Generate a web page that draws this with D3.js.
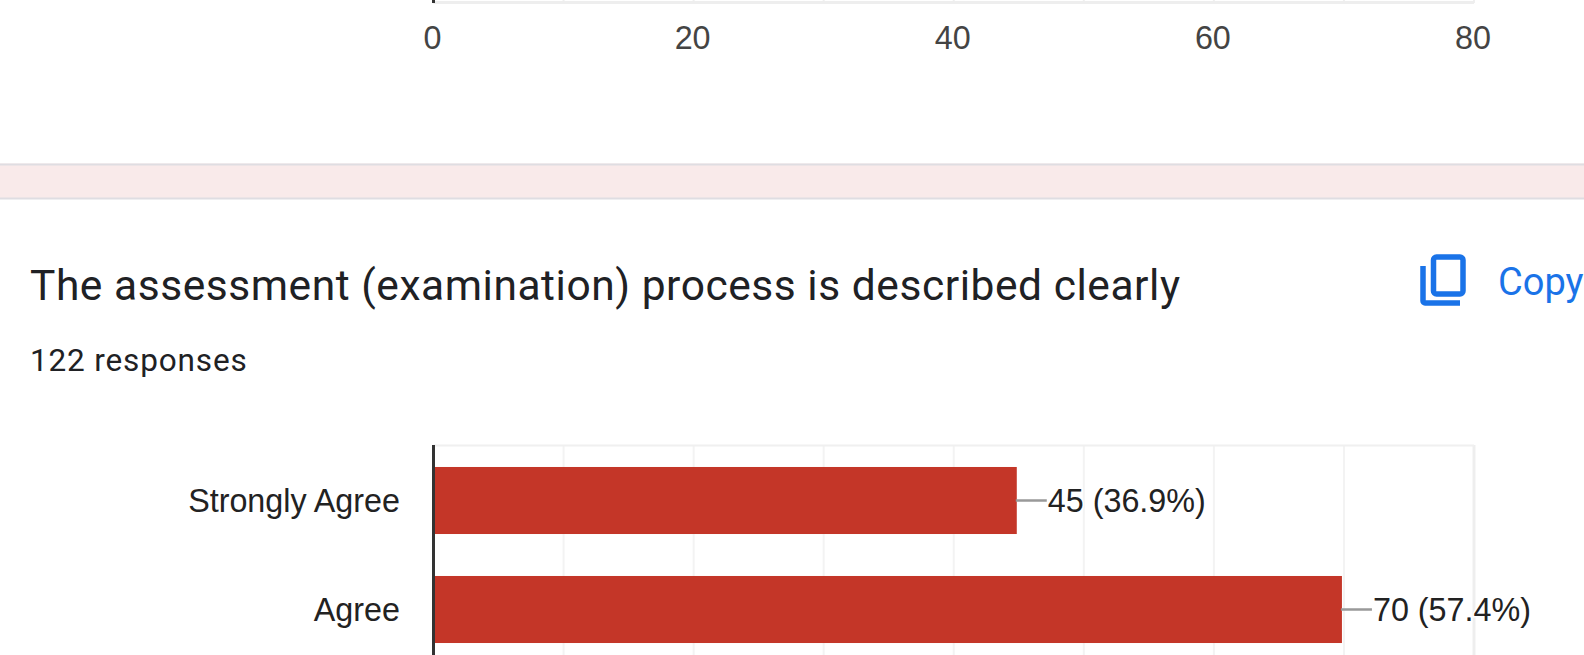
<!DOCTYPE html>
<html>
<head>
<meta charset="utf-8">
<script src="https://cdn.jsdelivr.net/npm/d3@7"></script>
<style>
  html, body { margin: 0; padding: 0; background: #fff; overflow: hidden; }
  svg { display: block; }
  .tick-label { font-family: "Liberation Sans", Arial, sans-serif; font-size: 32.3px; }
  .head { font-family: Roboto, sans-serif; fill: #202124; }
</style>
</head>
<body>
<svg id="canvas"></svg>
<script>
const categories = ["Strongly Agree", "Agree"];
const counts = [45, 70];
const percents = ["36.9%", "57.4%"];
const xTicks = [0, 20, 40, 60, 80];
const gridTicks = [10, 20, 30, 40, 50, 60, 70, 80];
const titleText = "The assessment (examination) process is described clearly";
const responsesText = "122 responses";
const copyText = "Copy";

const width = 1584;
const height = 655;

const svg = d3.select("#canvas")
    .attr("width", width)
    .attr("height", height);

const x = d3.scaleLinear()
    .domain([0, 80])
    .range([433.5, 1474]);

const y = d3.scaleBand()
    .domain(categories)
    .range([446, 664])
    .paddingInner(0.385)
    .paddingOuter(0.1925);

// bottom of the chart above, only the edge is in view
const prev = svg.append("g");
gridTicks.forEach(t => {
    prev.append("line")
        .attr("x1", x(t)).attr("x2", x(t))
        .attr("y1", -2).attr("y2", 3)
        .attr("stroke", "#efefef")
        .attr("stroke-width", 2);
});
prev.append("line")
    .attr("x1", x(0)).attr("x2", x(80))
    .attr("y1", 2.5).attr("y2", 2.5)
    .attr("stroke", "#eeeeee")
    .attr("stroke-width", 3);
prev.append("line")
    .attr("x1", x(0)).attr("x2", x(0))
    .attr("y1", 0).attr("y2", 3)
    .attr("stroke", "#333")
    .attr("stroke-width", 3);

const xAxis = svg.append("g")
    .attr("transform", "translate(-1.5,3)")
    .call(d3.axisBottom(x).tickValues(xTicks).tickSize(0).tickPadding(23));
xAxis.select(".domain").remove();
xAxis.selectAll("text")
    .attr("class", "tick-label")
    .attr("fill", "#444444")
    .style("font-size", "32.3px")
    .style("font-family", '"Liberation Sans", Arial, sans-serif');

// pink divider between the cards
svg.append("rect")
    .attr("x", 0).attr("y", 163.5)
    .attr("width", width).attr("height", 35)
    .attr("fill", "#f9eaea");
[164.5, 198.5].forEach(yy => {
    svg.append("line")
        .attr("x1", 0).attr("x2", width)
        .attr("y1", yy).attr("y2", yy)
        .attr("stroke", "#dfdde2")
        .attr("stroke-width", 2);
});

svg.append("text")
    .attr("class", "head")
    .attr("x", 30)
    .attr("y", 300)
    .style("font-size", "42.5px")
    .style("letter-spacing", "0.55px")
    .text(titleText);

svg.append("text")
    .attr("class", "head")
    .attr("x", 30)
    .attr("y", 371)
    .style("font-size", "31.5px")
    .style("letter-spacing", "0.85px")
    .text(responsesText);

// copy icon
svg.append("path")
    .attr("d", "M1423 266v35a2 2 0 0 0 2 2h35")
    .attr("fill", "none")
    .attr("stroke", "#1a73e8")
    .attr("stroke-width", 5.5);
svg.append("rect")
    .attr("x", 1433.5).attr("y", 257)
    .attr("width", 29.5).attr("height", 37)
    .attr("rx", 3)
    .attr("fill", "none")
    .attr("stroke", "#1a73e8")
    .attr("stroke-width", 5.5);

svg.append("text")
    .attr("x", 1498)
    .attr("y", 295)
    .attr("fill", "#1a73e8")
    .style("font-family", "Roboto, sans-serif")
    .style("font-weight", 400)
    .style("font-size", "38px")
    .text(copyText);

// grid
const plotBottom = height;
svg.selectAll(".grid")
    .data(gridTicks)
    .enter()
    .append("line")
    .attr("class", "grid")
    .attr("x1", d => x(d))
    .attr("x2", d => x(d))
    .attr("y1", 445)
    .attr("y2", plotBottom)
    .attr("stroke", d => d === 80 ? "#eeeeee" : "#f3f3f3")
    .attr("stroke-width", d => d === 80 ? 3 : 2);
svg.append("line")
    .attr("x1", x(0)).attr("x2", x(80))
    .attr("y1", 445.5).attr("y2", 445.5)
    .attr("stroke", "#f0f0f0")
    .attr("stroke-width", 2);

const rows = categories.map((c, i) => ({ c, n: counts[i], p: percents[i] }));

svg.selectAll(".bar")
    .data(rows)
    .enter()
    .append("rect")
    .attr("class", "bar")
    .attr("x", x(0))
    .attr("y", d => y(d.c))
    .attr("width", d => x(d.n) - x(0) - 2)
    .attr("height", y.bandwidth())
    .attr("fill", "#c43628");

// axis line on top of the bars
svg.append("line")
    .attr("x1", x(0)).attr("x2", x(0))
    .attr("y1", 445).attr("y2", plotBottom)
    .attr("stroke", "#333")
    .attr("stroke-width", 3);

svg.selectAll(".cat")
    .data(rows)
    .enter()
    .append("text")
    .attr("class", "cat tick-label")
    .attr("x", 400)
    .attr("y", d => y(d.c) + y.bandwidth() / 2 + 11)
    .attr("text-anchor", "end")
    .attr("fill", "#222222")
    .text(d => d.c);

svg.selectAll(".leader")
    .data(rows)
    .enter()
    .append("line")
    .attr("class", "leader")
    .attr("x1", d => x(d.n) - 3)
    .attr("x2", d => x(d.n) + 28)
    .attr("y1", d => y(d.c) + y.bandwidth() / 2)
    .attr("y2", d => y(d.c) + y.bandwidth() / 2)
    .attr("stroke", "#999999")
    .attr("stroke-width", 2.5);

svg.selectAll(".val")
    .data(rows)
    .enter()
    .append("text")
    .attr("class", "val tick-label")
    .attr("x", d => x(d.n) + 29)
    .attr("y", d => y(d.c) + y.bandwidth() / 2 + 11)
    .attr("fill", "#222222")
    .attr("stroke", "#fff")
    .attr("stroke-width", 3)
    .attr("paint-order", "stroke")
    .text(d => `${d.n} (${d.p})`);
</script>
</body>
</html>
